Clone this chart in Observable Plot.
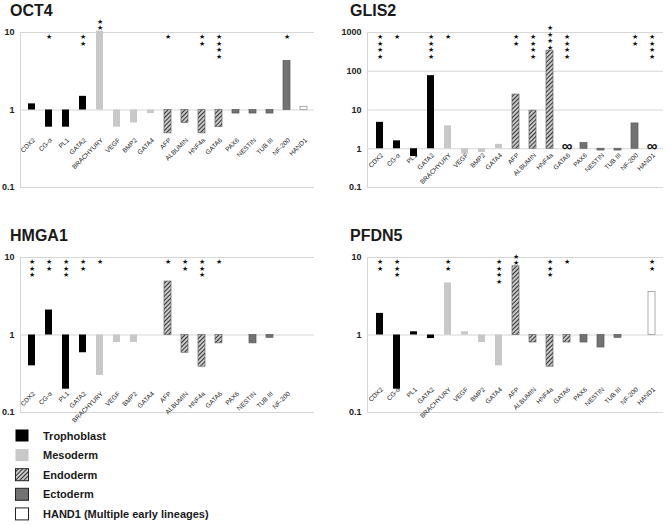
<!DOCTYPE html>
<html>
<head>
<meta charset="utf-8">
<script src="https://cdn.jsdelivr.net/npm/d3@7"></script>
<script src="https://cdn.jsdelivr.net/npm/@observablehq/plot@0.6"></script>
<style>
  html, body { margin: 0; padding: 0; background: #fff; }
  body { width: 669px; height: 525px; position: relative; overflow: hidden;
         font-family: "Liberation Sans", Arial, Helvetica, sans-serif; }
  .title { position: absolute; font-size: 16px; line-height: 16px; font-weight: bold; color: #1a1a1a; }
  .panel { position: absolute; }
</style>
</head>
<body>
<svg width="0" height="0" style="position:absolute">
  <defs>
    <pattern id="hatch" width="3" height="3" patternUnits="userSpaceOnUse" patternTransform="rotate(45)">
      <rect width="3" height="3" fill="#eeeeee"></rect>
      <line x1="1.5" y1="0" x2="1.5" y2="3" stroke="#333333" stroke-width="1.4"></line>
    </pattern>
  </defs>
</svg>
<div id="root"></div>
<script>
// ---- data ----
const genes = ["CDX2","CG-α","PL1","GATA2","BRACHYURY","VEGF","BMP2","GATA4","AFP","ALBUMIN","HNF4a","GATA6","PAX6","NESTIN","TUB III","NF-200","HAND1"];
const lineageOfGene = ["Trophoblast","Trophoblast","Trophoblast","Trophoblast",
  "Mesoderm","Mesoderm","Mesoderm","Mesoderm",
  "Endoderm","Endoderm","Endoderm","Endoderm",
  "Ectoderm","Ectoderm","Ectoderm","Ectoderm",
  "HAND1 (Multiple early lineages)"];
const lineages = ["Trophoblast","Mesoderm","Endoderm","Ectoderm","HAND1 (Multiple early lineages)"];
const lineageFill = ["#000000","#c8c8c8","url(#hatch)","#727272","#ffffff"];
const lineageStroke = ["none","none","#666666","#5a5a5a","#8a8a8a"];

// fold-change values (null = no bar)
const oct4Values  = [1.2, 0.6, 0.6, 1.5, 10.4, 0.6, 0.68, 0.9, 0.5, 0.68, 0.5, 0.6, 0.9, 0.9, 0.9, 4.3, 1.1];
const oct4Stars   = [0, 1, 0, 2, 2, 0, 0, 0, 1, 0, 2, 4, 0, 0, 0, 1, 0];
const glis2Values = [4.8, 1.6, 0.63, 77, 3.9, 0.73, 0.8, 1.3, 25, 9.6, 340, null, 1.4, 0.9, 0.9, 4.5, null];
const glis2Stars  = [4, 1, 0, 4, 1, 0, 0, 0, 2, 4, 4, 4, 0, 0, 0, 2, 4];
const glis2Infinite = ["GATA6", "HAND1"];
const hmga1Values = [0.4, 2.1, 0.2, 0.59, 0.3, 0.8, 0.8, null, 4.9, 0.59, 0.39, 0.78, null, 0.78, 0.92, null, null];
const hmga1Stars  = [3, 2, 3, 2, 1, 0, 0, 0, 1, 2, 3, 1, 0, 0, 0, 0, 0];
const pfdn5Values = [1.9, 0.2, 1.1, 0.9, 4.7, 1.1, 0.8, 0.4, 7.7, 0.8, 0.39, 0.8, 0.8, 0.69, 0.92, null, 3.6];
const pfdn5Stars  = [2, 3, 0, 0, 2, 0, 0, 4, 2, 0, 3, 1, 0, 0, 0, 0, 2];

const ticksSmall = [0.1, 1, 10];
const tickLabelsSmall = ["0.1", "1", "10"];
const ticksLarge = [0.1, 1, 10, 100, 1000];
const tickLabelsLarge = ["0.1", "1", "10", "100", "1000"];

// ---- layout ----
const panels = [
  {title: "OCT4",  values: oct4Values,  stars: oct4Stars,  inf: [], ticks: ticksSmall, tickLabels: tickLabelsSmall,
   left: 0, top: 0, titleX: 10, width: 335, mLeft: 20, mRight: 21, labelY: 0.42, labelGenes: genes},
  {title: "GLIS2", values: glis2Values, stars: glis2Stars, inf: glis2Infinite, ticks: ticksLarge, tickLabels: tickLabelsLarge,
   left: 335, top: 0, titleX: 350, width: 334, mLeft: 32, mRight: 6, labelY: 0.72, labelGenes: genes},
  {title: "HMGA1", values: hmga1Values, stars: hmga1Stars, inf: [], ticks: ticksSmall, tickLabels: tickLabelsSmall,
   left: 0, top: 225, titleX: 10, width: 335, mLeft: 20, mRight: 21, labelY: 0.18, labelGenes: genes.slice(0, 16)},
  {title: "PFDN5", values: pfdn5Values, stars: pfdn5Stars, inf: [], ticks: ticksSmall, tickLabels: tickLabelsSmall,
   left: 335, top: 225, titleX: 350, width: 334, mLeft: 32, mRight: 6, labelY: 0.205, labelGenes: genes}
];

const root = document.getElementById("root");
const H = 202, mTop = 32, mBottom = 15;
const starFont = 6.5, starLine = 1;

for (const p of panels) {
  const t = document.createElement("div");
  t.className = "title";
  t.style.left = p.titleX + "px";
  t.style.top = (p.top + 3) + "px";
  t.textContent = p.title;
  root.appendChild(t);

  const domain = [p.ticks[0], p.ticks[p.ticks.length - 1]];
  const yPx = d3.scaleLog(domain, [H - mBottom, mTop]);
  const data = genes.map((g, i) => ({gene: g, lineage: lineageOfGene[i], value: p.values[i], stars: p.stars[i]}));
  const bars = data.filter(d => d.value != null);
  const starData = data.filter(d => d.stars > 0).map(d => {
    const stackBottom = mTop + 3 + d.stars * starFont * starLine;
    const above = d.value != null && d.value > 1 && yPx(d.value) < stackBottom + 1;
    return {...d, above, text: Array(d.stars).fill("★").join("\n")};
  });

  const marks = [
    Plot.ruleY(p.ticks, {stroke: "#d6d6d6", strokeWidth: 1})
  ];
  lineages.forEach((lin, k) => {
    marks.push(Plot.barY(bars.filter(d => d.lineage === lin), {
      x: "gene", y1: () => 1, y2: "value",
      fill: lineageFill[k], stroke: lineageStroke[k], strokeWidth: 0.7
    }));
  });
  marks.push(
    Plot.text(starData.filter(d => !d.above), {x: "gene", y: () => domain[1], text: "text",
      lineAnchor: "top", dy: 2, fontSize: starFont, lineHeight: starLine, fill: "#111"}),
    Plot.text(starData.filter(d => d.above), {x: "gene", y: "value", text: "text",
      lineAnchor: "bottom", dy: -1, fontSize: starFont, lineHeight: starLine, fill: "#111"}),
    Plot.text(p.inf, {x: d => d, y: () => 1, text: () => "∞", fontSize: 15, fontWeight: "bold", dy: -3, fill: "#111"}),
    Plot.text(p.labelGenes, {x: d => d, y: () => p.labelY, text: d => d, rotate: -45, textAnchor: "end",
      dx: 2, fontSize: 6.5, fill: "#222"}),
    Plot.text(p.ticks, {y: d => d, text: (d, i) => p.tickLabels[i], frameAnchor: "left", textAnchor: "end",
      dx: -6, fontSize: 9, fontWeight: "bold", fill: "#222"})
  );

  const svg = Plot.plot({
    width: p.width, height: H,
    marginLeft: p.mLeft, marginRight: p.mRight, marginTop: mTop, marginBottom: mBottom,
    x: {domain: genes, paddingInner: 0.6, paddingOuter: 0.3, axis: null},
    y: {type: "log", domain, axis: null},
    style: {background: "transparent", fontFamily: "'Liberation Sans', Arial, sans-serif", overflow: "visible"},
    marks
  });
  const xr = svg.scale("x").range;
  const yr = svg.scale("y").range;
  d3.select(svg).insert("line", ":first-child")
    .attr("x1", xr[0] + 0.5).attr("x2", xr[0] + 0.5)
    .attr("y1", yr[0]).attr("y2", yr[1])
    .attr("stroke", "#d6d6d6");

  const wrap = document.createElement("div");
  wrap.className = "panel";
  wrap.style.left = p.left + "px";
  wrap.style.top = p.top + "px";
  wrap.appendChild(svg);
  root.appendChild(wrap);
}

// ---- legend ----
const legend = d3.select(root).append("svg")
  .attr("width", 320).attr("height", 100)
  .style("position", "absolute").style("left", "0px").style("top", "425px");
const rowStep = 19.6;
lineages.forEach((lin, k) => {
  const g = legend.append("g").attr("transform", `translate(0,${4 + k * rowStep})`);
  g.append("rect").attr("x", 15.5).attr("y", 0.5).attr("width", 13).attr("height", 12)
    .attr("fill", lineageFill[k])
    .attr("stroke", lineageStroke[k] === "none" ? "none" : "#222").attr("stroke-width", 1);
  g.append("text").attr("x", 43).attr("y", 10.5)
    .attr("font-size", 11).attr("font-weight", "bold").attr("fill", "#1a1a1a")
    .attr("font-family", "'Liberation Sans', Arial, sans-serif")
    .text(lin);
});
</script>
</body>
</html>
